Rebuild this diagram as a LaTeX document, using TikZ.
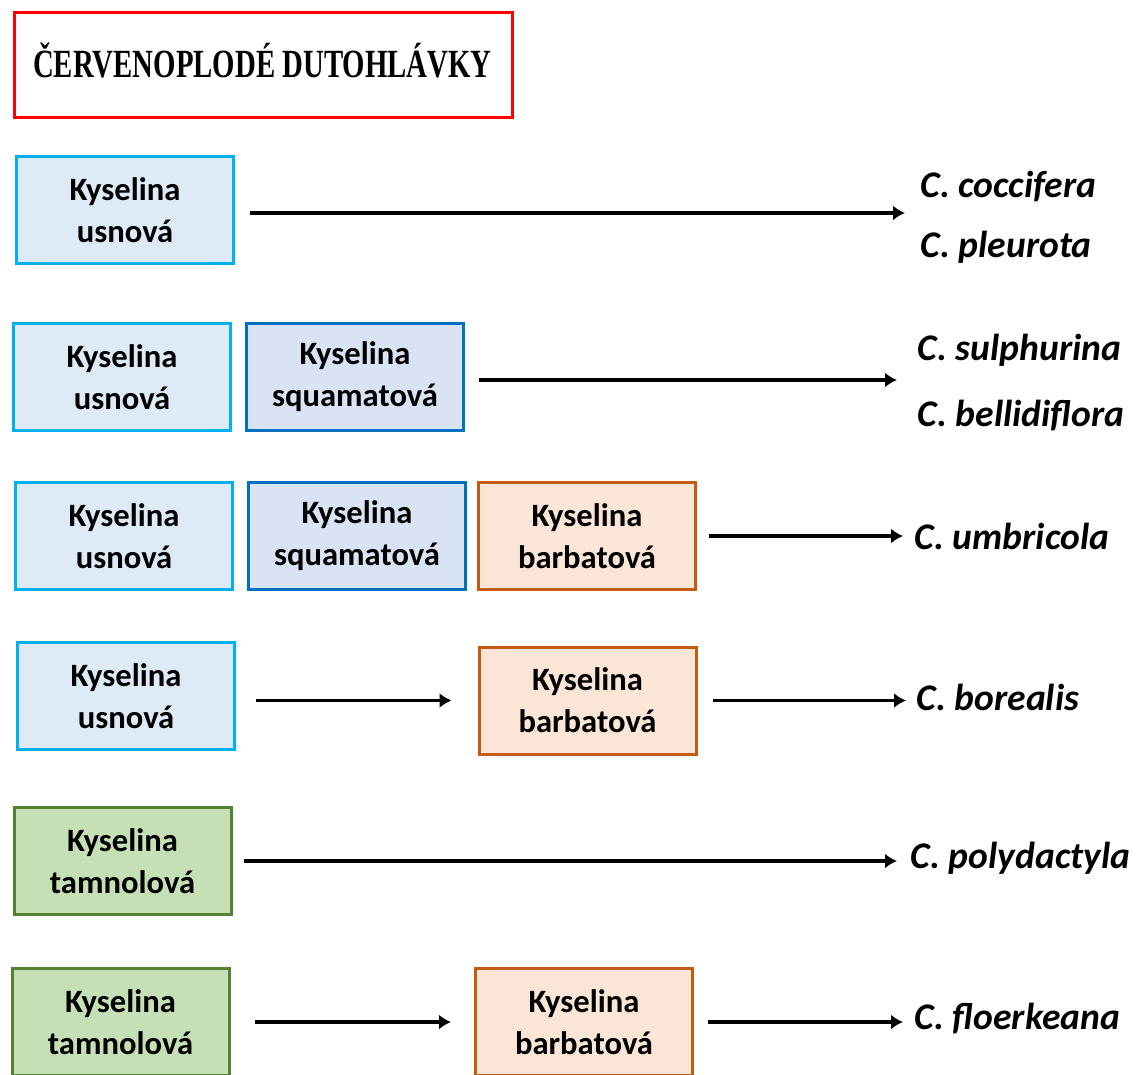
\documentclass[tikz,border=0pt]{standalone}
\usepackage{fontspec}
\setmainfont{Carlito}
\newfontfamily\titlefont[FakeStretch=0.72]{Liberation Serif}
\usepackage{xcolor}
\usetikzlibrary{arrows.meta}
\usetikzlibrary{positioning}

\definecolor{usnLine}{HTML}{00B0F0}
\definecolor{usnFill}{HTML}{DEEBF7}
\definecolor{squLine}{HTML}{0070C0}
\definecolor{squFill}{HTML}{DAE3F3}
\definecolor{barLine}{HTML}{C55A11}
\definecolor{barFill}{HTML}{FBE5D6}
\definecolor{tamLine}{HTML}{548235}
\definecolor{tamFill}{HTML}{C5E0B4}

\begin{document}
\begin{tikzpicture}[x=0.5pt,y=-0.5pt,>={Latex[length=6pt,width=7.5pt]},line width=1.7pt]
  \tikzstyle{acid}=[draw, rectangle, line width=1.5pt, minimum width=108.5pt, minimum height=53.5pt,
                    align=center, font=\fontsize{16.3}{21}\selectfont\bfseries]
  \tikzstyle{usn}=[acid, draw=usnLine, fill=usnFill]
  \tikzstyle{squ}=[acid, draw=squLine, fill=squFill]
  \tikzstyle{bar}=[acid, draw=barLine, fill=barFill]
  \tikzstyle{tam}=[acid, draw=tamLine, fill=tamFill]
  \tikzstyle{species}=[anchor=west, inner sep=0pt, align=left, font=\fontsize{18.8}{22}\selectfont\bfseries\itshape]
  \tikzstyle{link}=[->]
  \useasboundingbox (0,0) rectangle (1140,1075);

  % title
  \node[draw=red, line width=1.6pt, anchor=north west, minimum width=249pt, minimum height=52.5pt,
        inner xsep=9.25pt, font=\fontsize{20}{24}\selectfont\titlefont\bfseries] (title) at (13,11)
        {\raisebox{4.5pt}{\makebox[230.5pt][l]{ČERVENOPLODÉ DUTOHLÁVKY}}};

  % row 1
  \node[usn] (U1) at (125,210) {Kyselina\\usnová};
  \node[species] (S1) at (919,217) {C. coccifera\\[8pt]C. pleurota};

  % row 2
  \node[usn] (U2) at (122,377) {Kyselina\\usnová};
  \node[squ] (Q2) [right=6.5pt of U2] {Kyselina\\squamatová};
  \node[species] (S2) at (916,383) {C. sulphurina\\[11pt]C. bellidiflora};

  % row 3
  \node[usn] (U3) at (124,536) {Kyselina\\usnová};
  \node[squ] (Q3) [right=6.5pt of U3] {Kyselina\\squamatová};
  \node[bar] (B3) [right=5pt of Q3] {Kyselina\\barbatová};
  \node[species] (S3) at (913,536) {C. umbricola};

  % row 4
  \node[usn] (U4) at (126,696) {Kyselina\\usnová};
  \node[bar] (B4) at (587.5,700.5) {Kyselina\\barbatová};
  \node[species] (S4) at (915,697) {C. borealis};

  % row 5
  \node[tam] (T5) at (122.5,861) {Kyselina\\tamnolová};
  \node[species] (S5) at (909,858) {C. polydactyla};

  % row 6
  \node[tam] (T6) at (120.5,1022) {Kyselina\\tamnolová};
  \node[bar] (B6) at (584,1022) {Kyselina\\barbatová};
  \node[species] (S6) at (913,1019) {C. floerkeana};

  \draw[link, shorten <=7.5pt, shorten >=7pt] ([yshift=-1.5pt]U1.east) -- ([yshift=-1.5pt]U1.east -| S1.west);
  \draw[link, shorten <=7pt, shorten >=9.5pt] ([yshift=-1.5pt]Q2.east) -- ([yshift=-1.5pt]Q2.east -| S2.west);
  \draw[link, shorten <=6pt, shorten >=5pt] (B3.east) -- (B3.east -| S3.west);
  \draw[link, shorten <=10pt, shorten >=13pt] (U4.east |- B4.west) -- (B4.west);
  \draw[link, shorten <=7.5pt, shorten >=4.5pt] (B4.east) -- (B4.east -| S4.west);
  \draw[link, shorten <=5.5pt, shorten >=6pt] (T5.east) -- (T5.east -| S5.west);
  \draw[link, shorten <=12pt, shorten >=11.5pt] (T6.east) -- (B6.west);
  \draw[link, shorten <=7pt, shorten >=5pt] (B6.east) -- (B6.east -| S6.west);
\end{tikzpicture}
\end{document}
